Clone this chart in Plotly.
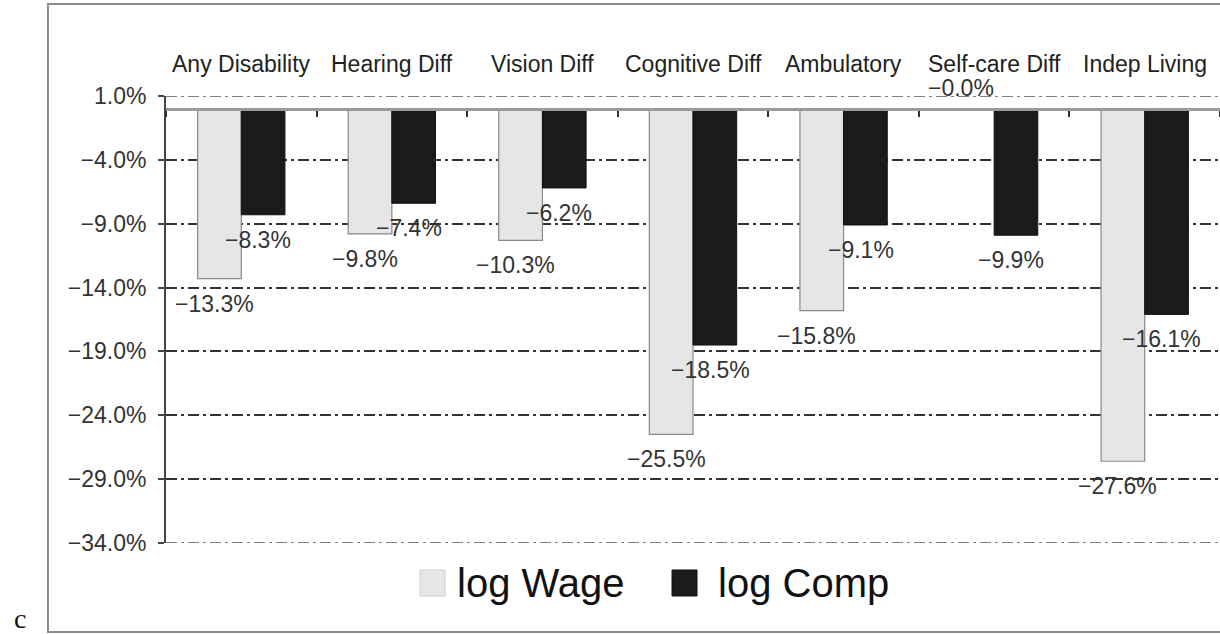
import plotly.graph_objects as go

categories = ["Any Disability", "Hearing Diff", "Vision Diff", "Cognitive Diff",
              "Ambulatory", "Self-care Diff", "Indep Living"]
log_wage = [-13.3, -9.8, -10.3, -25.5, -15.8, -0.0, -27.6]
log_comp = [-8.3, -7.4, -6.2, -18.5, -9.1, -9.9, -16.1]
series_names = ["log Wage", "log Comp"]
y_tickvals = [1, -4, -9, -14, -19, -24, -29, -34]
y_ticktext = ["1.0%", "\u22124.0%", "\u22129.0%", "\u221214.0%", "\u221219.0%",
              "\u221224.0%", "\u221229.0%", "\u221234.0%"]
panel_letter = "c"

FONT = "Liberation Sans, Arial, Helvetica, sans-serif"
WAGE_FILL = "#e6e6e8"
COMP_FILL = "#1b1b1b"
TXT = "#333333"
GRID_DASH = "11px,4px,3px,4px"
Y_MIN, Y_MAX = -34, 1

fig = go.Figure()
fig.add_trace(go.Bar(x=categories, y=log_wage, name=series_names[0],
                     marker=dict(color=WAGE_FILL, line=dict(color="#8a8a8a", width=1.2)),
                     showlegend=False))
fig.add_trace(go.Bar(x=categories, y=log_comp, name=series_names[1],
                     marker=dict(color=COMP_FILL, line=dict(color="#111111", width=1)),
                     showlegend=False))

def fmt(v):
    return ("\u2212" if v <= 0 else "") + f"{abs(v):.1f}%"

annotations = []
# value labels
for vals, dx in ((log_wage, -27), (log_comp, 17)):
    for c, v in zip(categories, vals):
        above = round(v, 1) == 0
        annotations.append(dict(x=c, y=v, xref="x", yref="y", text=fmt(v),
                                showarrow=False, xshift=dx - (6 if above else 0),
                                yshift=21 if above else -25,
                                yanchor="middle", xanchor="center",
                                font=dict(family=FONT, size=23, color=TXT)))
# category headers
for c in categories:
    annotations.append(dict(x=c, y=1, xref="x", yref="paper", text=c, showarrow=False,
                            yshift=32, yanchor="middle", xanchor="center",
                            font=dict(family=FONT, size=23, color="#222222")))
# legend (manual, larger swatches)
leg = [(series_names[0], WAGE_FILL, "#d0d0d0", 0.241, 0.2745),
       (series_names[1], COMP_FILL, "#111111", 0.4801, 0.5215)]
shapes = []
for name, fill, line, sx, tx in leg:
    shapes.append(dict(type="rect", xref="paper", yref="paper",
                       x0=sx, x1=sx + 0.0237, y0=-0.1186, y1=-0.0604,
                       fillcolor=fill, line=dict(color=line, width=1)))
    annotations.append(dict(x=tx, y=-0.0895, xref="paper", yref="paper", text=name,
                            showarrow=False, xanchor="left", yanchor="middle",
                            font=dict(family=FONT, size=40, color="#111111")))
# panel letter
annotations.append(dict(x=-0.1385, y=-0.17, xref="paper", yref="paper", text=panel_letter,
                        showarrow=False, xanchor="center", yanchor="middle",
                        font=dict(family="Liberation Serif, Times New Roman, serif",
                                  size=28, color="#111111")))
# gridlines at the range edges (not drawn by plotly at the axis boundaries)
for yv in (y_tickvals[0], y_tickvals[-1]):
    shapes.append(dict(type="line", xref="paper", yref="y", x0=0, x1=1, y0=yv, y1=yv,
                       layer="below", line=dict(color="#555555", width=1.3, dash=GRID_DASH)))
# outer frame
shapes.append(dict(type="rect", xref="paper", yref="paper", layer="below",
                   x0=-0.112, x1=1.05, y0=-0.199, y1=1.2058,
                   line=dict(color="#8c8c8c", width=2), fillcolor="rgba(0,0,0,0)"))

fig.update_layout(
    width=1220, height=634,
    margin=dict(l=166, r=0, t=96, b=91, pad=0),
    paper_bgcolor="white", plot_bgcolor="white",
    barmode="group", bargap=0.42, bargroupgap=0,
    font=dict(family=FONT, color=TXT),
    annotations=annotations, shapes=shapes,
    showlegend=False,
)
fig.update_yaxes(range=[Y_MIN, Y_MAX], tickmode="array", tickvals=y_tickvals, ticktext=y_ticktext,
                 showgrid=True, gridcolor="#333333", gridwidth=1.5, griddash=GRID_DASH,
                 zeroline=False, showline=True, linecolor="#444444", linewidth=2,
                 ticks="outside", ticklen=6, tickcolor="#444444", tickwidth=1.5,
                 ticklabelstandoff=7,
                 tickfont=dict(family=FONT, size=23, color=TXT))
fig.update_xaxes(type="category", range=[-0.5, len(categories) - 0.5],
                 anchor="free", position=(0 - Y_MIN) / (Y_MAX - Y_MIN),
                 showline=True, linecolor="#9a9a9a", linewidth=2.5,
                 ticks="outside", tickson="boundaries", ticklen=6, tickcolor="#333333", tickwidth=1.5,
                 showticklabels=False, showgrid=False, zeroline=False)

fig.write_html("out.html", config={"displayModeBar": False},
               post_script="document.body.style.margin='0';document.body.style.overflow='hidden';")
